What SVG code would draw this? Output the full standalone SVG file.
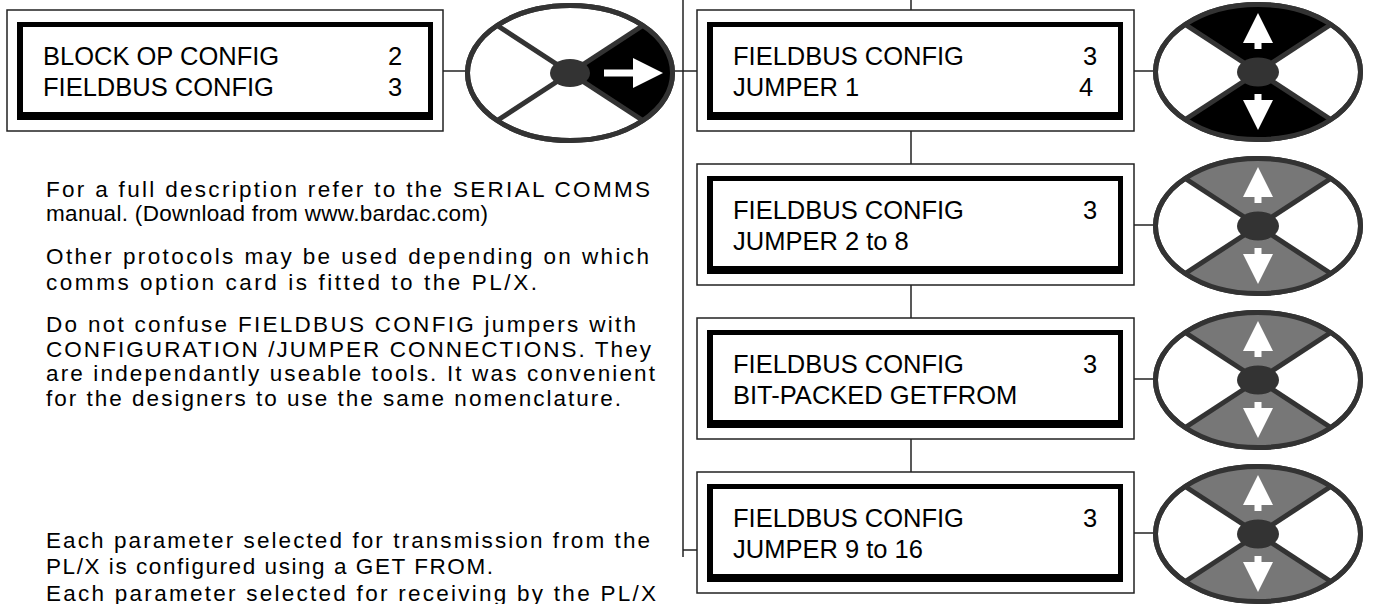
<svg xmlns="http://www.w3.org/2000/svg" width="1374" height="604" viewBox="0 0 1374 604">
<style>
.ob{fill:#fff;stroke:#222;stroke-width:1.5}
.fr{fill:#000;fill-rule:evenodd}
.bt{font-family:"Liberation Sans",Arial,sans-serif;font-size:25.5px;fill:#000}
.tx{font-family:"Liberation Sans",Arial,sans-serif;font-size:22.5px;fill:#000}
.cn{stroke:#222;stroke-width:1.5;fill:none}
.el{fill:#fff;stroke:#333;stroke-width:5}
.ring{fill:none;stroke:#333;stroke-width:5}
.xl{stroke:#333;stroke-width:5}
.hub{fill:#333}
.blk{fill:#000}
.gry{fill:#777}
.wa{fill:#fff}
</style>

<g id="connectors">
<line class="cn" x1="443" y1="71" x2="468" y2="71"/>
<line class="cn" x1="672" y1="71" x2="697" y2="71"/>
<line class="cn" x1="683" y1="0" x2="683" y2="557"/>
<line class="cn" x1="683" y1="550" x2="697" y2="550"/>
<line class="cn" x1="911" y1="0" x2="911" y2="10"/>
<line class="cn" x1="911" y1="131" x2="911" y2="164"/>
<line class="cn" x1="911" y1="285" x2="911" y2="318"/>
<line class="cn" x1="911" y1="439" x2="911" y2="472"/>
<line class="cn" x1="1134" y1="71" x2="1158" y2="71"/>
<line class="cn" x1="1134" y1="225" x2="1158" y2="225"/>
<line class="cn" x1="1134" y1="379" x2="1158" y2="379"/>
<line class="cn" x1="1134" y1="533" x2="1158" y2="533"/>
</g>

<g id="box-block-op">
<rect class="ob" x="7" y="10" width="436" height="121"/>
<path class="fr" d="M17,22 H433 V120 H17 Z M23,27 V112 H428 V27 Z"/>
<text class="bt" x="43" y="65">BLOCK OP CONFIG</text>
<text class="bt" x="388" y="65">2</text>
<text class="bt" x="43" y="96">FIELDBUS CONFIG</text>
<text class="bt" x="388" y="96">3</text>
</g>

<g id="key-right" transform="translate(570,73)">
<ellipse class="el" cx="0" cy="0" rx="102.5" ry="67.5"/>
<path class="blk" d="M0,0 L72.8,-47.5 A102.5 67.5 0 0 1 72.8,47.5 Z"/>
<line class="xl" x1="-72.8" y1="-47.5" x2="72.8" y2="47.5"/>
<line class="xl" x1="72.8" y1="-47.5" x2="-72.8" y2="47.5"/>
<ellipse class="ring" cx="0" cy="0" rx="102.5" ry="67.5"/>
<ellipse class="hub" cx="0" cy="0" rx="20" ry="14"/>
<rect class="wa" x="34" y="-3.5" width="30" height="7"/>
<polygon class="wa" points="63,-15 93,0 63,15"/>
</g>

<g id="box-jumper1">
<rect class="ob" x="697" y="10" width="437" height="121"/>
<path class="fr" d="M707,22 H1123 V120 H707 Z M713,27 V112 H1118 V27 Z"/>
<text class="bt" x="733" y="65">FIELDBUS CONFIG</text>
<text class="bt" x="1083" y="65">3</text>
<text class="bt" x="733" y="96">JUMPER 1</text>
<text class="bt" x="1079" y="96">4</text>
</g>

<g id="box-jumper2-8">
<rect class="ob" x="697" y="164" width="437" height="121"/>
<path class="fr" d="M707,176 H1123 V274 H707 Z M713,181 V266 H1118 V181 Z"/>
<text class="bt" x="733" y="219">FIELDBUS CONFIG</text>
<text class="bt" x="1083" y="219">3</text>
<text class="bt" x="733" y="250">JUMPER 2 to 8</text>
</g>

<g id="box-bitpacked">
<rect class="ob" x="697" y="318" width="437" height="121"/>
<path class="fr" d="M707,330 H1123 V428 H707 Z M713,335 V420 H1118 V335 Z"/>
<text class="bt" x="733" y="373">FIELDBUS CONFIG</text>
<text class="bt" x="1083" y="373">3</text>
<text class="bt" x="733" y="404">BIT-PACKED GETFROM</text>
</g>

<g id="box-jumper9-16">
<rect class="ob" x="697" y="472" width="437" height="121"/>
<path class="fr" d="M707,484 H1123 V582 H707 Z M713,489 V574 H1118 V489 Z"/>
<text class="bt" x="733" y="527">FIELDBUS CONFIG</text>
<text class="bt" x="1083" y="527">3</text>
<text class="bt" x="733" y="558">JUMPER 9 to 16</text>
</g>

<g id="key-updown-1" transform="translate(1258,72)">
<ellipse class="el" cx="0" cy="0" rx="102.5" ry="67.5"/>
<path class="blk" d="M0,0 L-72.8,-47.5 A102.5 67.5 0 0 1 72.8,-47.5 Z"/>
<path class="blk" d="M0,0 L72.8,47.5 A102.5 67.5 0 0 1 -72.8,47.5 Z"/>
<line class="xl" x1="-72.8" y1="-47.5" x2="72.8" y2="47.5"/>
<line class="xl" x1="72.8" y1="-47.5" x2="-72.8" y2="47.5"/>
<ellipse class="ring" cx="0" cy="0" rx="102.5" ry="67.5"/>
<ellipse class="hub" cx="0" cy="0" rx="21" ry="14.5"/>
<polygon class="wa" points="0,-59 15,-29 3.5,-29 3.5,-23 -3.5,-23 -3.5,-29 -15,-29"/>
<polygon class="wa" points="0,58 15,28 3.5,28 3.5,22 -3.5,22 -3.5,28 -15,28"/>
</g>

<g id="key-updown-2" transform="translate(1258,226)">
<ellipse class="el" cx="0" cy="0" rx="102.5" ry="67.5"/>
<path class="gry" d="M0,0 L-72.8,-47.5 A102.5 67.5 0 0 1 72.8,-47.5 Z"/>
<path class="gry" d="M0,0 L72.8,47.5 A102.5 67.5 0 0 1 -72.8,47.5 Z"/>
<line class="xl" x1="-72.8" y1="-47.5" x2="72.8" y2="47.5"/>
<line class="xl" x1="72.8" y1="-47.5" x2="-72.8" y2="47.5"/>
<ellipse class="ring" cx="0" cy="0" rx="102.5" ry="67.5"/>
<ellipse class="hub" cx="0" cy="0" rx="21" ry="14.5"/>
<polygon class="wa" points="0,-59 15,-29 3.5,-29 3.5,-23 -3.5,-23 -3.5,-29 -15,-29"/>
<polygon class="wa" points="0,58 15,28 3.5,28 3.5,22 -3.5,22 -3.5,28 -15,28"/>
</g>

<g id="key-updown-3" transform="translate(1258,380)">
<ellipse class="el" cx="0" cy="0" rx="102.5" ry="67.5"/>
<path class="gry" d="M0,0 L-72.8,-47.5 A102.5 67.5 0 0 1 72.8,-47.5 Z"/>
<path class="gry" d="M0,0 L72.8,47.5 A102.5 67.5 0 0 1 -72.8,47.5 Z"/>
<line class="xl" x1="-72.8" y1="-47.5" x2="72.8" y2="47.5"/>
<line class="xl" x1="72.8" y1="-47.5" x2="-72.8" y2="47.5"/>
<ellipse class="ring" cx="0" cy="0" rx="102.5" ry="67.5"/>
<ellipse class="hub" cx="0" cy="0" rx="21" ry="14.5"/>
<polygon class="wa" points="0,-59 15,-29 3.5,-29 3.5,-23 -3.5,-23 -3.5,-29 -15,-29"/>
<polygon class="wa" points="0,58 15,28 3.5,28 3.5,22 -3.5,22 -3.5,28 -15,28"/>
</g>

<g id="key-updown-4" transform="translate(1258,534)">
<ellipse class="el" cx="0" cy="0" rx="102.5" ry="67.5"/>
<path class="gry" d="M0,0 L-72.8,-47.5 A102.5 67.5 0 0 1 72.8,-47.5 Z"/>
<path class="gry" d="M0,0 L72.8,47.5 A102.5 67.5 0 0 1 -72.8,47.5 Z"/>
<line class="xl" x1="-72.8" y1="-47.5" x2="72.8" y2="47.5"/>
<line class="xl" x1="72.8" y1="-47.5" x2="-72.8" y2="47.5"/>
<ellipse class="ring" cx="0" cy="0" rx="102.5" ry="67.5"/>
<ellipse class="hub" cx="0" cy="0" rx="21" ry="14.5"/>
<polygon class="wa" points="0,-59 15,-29 3.5,-29 3.5,-23 -3.5,-23 -3.5,-29 -15,-29"/>
<polygon class="wa" points="0,58 15,28 3.5,28 3.5,22 -3.5,22 -3.5,28 -15,28"/>
</g>

<g id="notes">
<text class="tx" x="46" y="197" textLength="604" lengthAdjust="spacing">For a full description refer to the SERIAL COMMS</text>
<text class="tx" x="46" y="221" textLength="442" lengthAdjust="spacing">manual. (Download from www.bardac.com)</text>
<text class="tx" x="46" y="264" textLength="603" lengthAdjust="spacing">Other protocols may be used depending on which</text>
<text class="tx" x="46" y="290" textLength="491" lengthAdjust="spacing">comms option card is fitted to the PL/X.</text>
<text class="tx" x="46" y="332" textLength="590" lengthAdjust="spacing">Do not confuse FIELDBUS CONFIG jumpers with</text>
<text class="tx" x="46" y="357" textLength="605" lengthAdjust="spacing">CONFIGURATION /JUMPER CONNECTIONS. They</text>
<text class="tx" x="46" y="381" textLength="609" lengthAdjust="spacing">are independantly useable tools. It was convenient</text>
<text class="tx" x="46" y="406" textLength="575" lengthAdjust="spacing">for the designers to use the same nomenclature.</text>
<text class="tx" x="46" y="548" textLength="604" lengthAdjust="spacing">Each parameter selected for transmission from the</text>
<text class="tx" x="46" y="574" textLength="447" lengthAdjust="spacing">PL/X is configured using a GET FROM.</text>
<text class="tx" x="46" y="601" textLength="610" lengthAdjust="spacing">Each parameter selected for receiving by the PL/X</text>
</g>
</svg>
